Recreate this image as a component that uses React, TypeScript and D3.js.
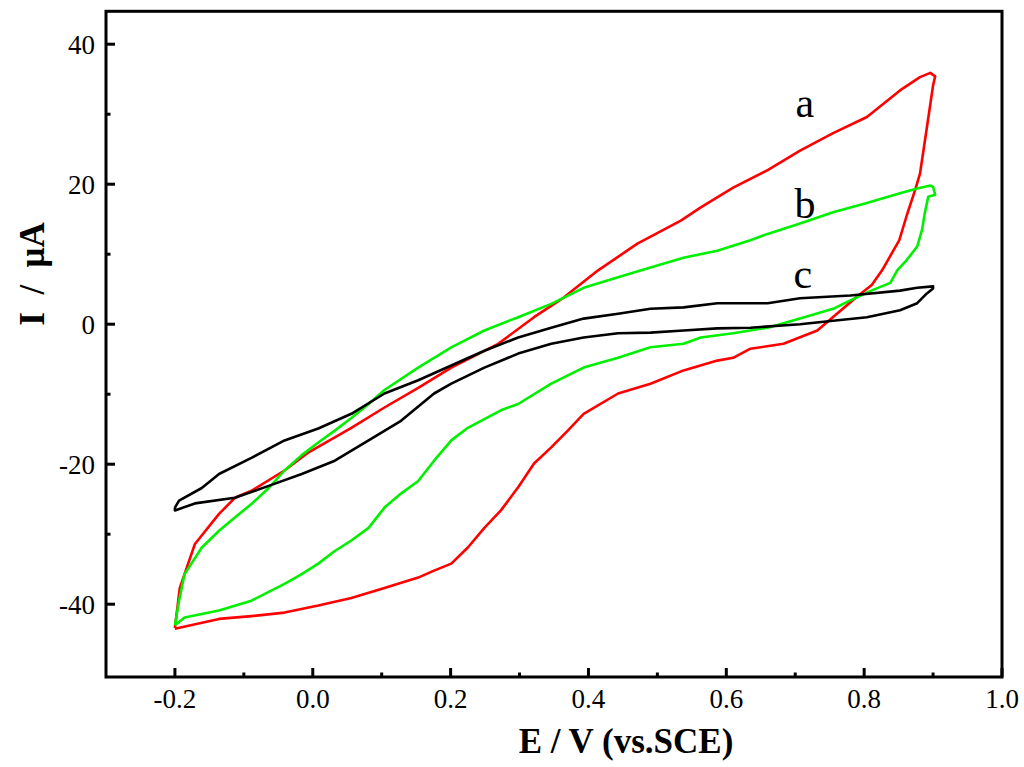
import React from "react";
import * as d3 from "d3";

// Curve a (red): forward scan then reverse scan
const aE = [-0.2, -0.193, -0.171, -0.136, -0.113, -0.089, -0.041, -0.006, 0.056, 0.104, 0.153, 0.201, 0.249, 0.269, 0.321, 0.364, 0.414, 0.471, 0.534, 0.563, 0.61, 0.66, 0.707, 0.755, 0.804, 0.852, 0.881, 0.896, 0.903,
  0.9, 0.891, 0.881, 0.874, 0.862, 0.851, 0.826, 0.811, 0.789, 0.732, 0.683, 0.635, 0.61, 0.587, 0.538, 0.49, 0.443, 0.393, 0.37, 0.346, 0.321, 0.298, 0.273, 0.249, 0.225, 0.201, 0.176, 0.153, 0.104, 0.056, 0.008, -0.041, -0.089, -0.136, -0.2];
const aI = [-43.4, -37.7, -31.4, -27.1, -24.8, -23.8, -20.9, -18.3, -14.8, -11.9, -9.1, -6.2, -3.8, -2.8, 1.0, 3.8, 7.7, 11.5, 14.8, 16.7, 19.5, 22.0, 24.8, 27.3, 29.6, 33.4, 35.3, 35.9, 35.4,
  34.1, 28.1, 21.5, 19.2, 15.6, 12.0, 7.7, 5.6, 3.9, -0.9, -2.8, -3.5, -4.8, -5.2, -6.6, -8.5, -9.9, -12.8, -15.2, -17.6, -19.9, -23.3, -26.6, -29.1, -31.9, -34.2, -35.2, -36.2, -37.7, -39.1, -40.2, -41.2, -41.7, -42.1, -43.5];

// Curve b (green)
const bE = [-0.2, -0.194, -0.186, -0.161, -0.136, -0.113, -0.089, -0.064, -0.041, -0.016, 0.008, 0.032, 0.056, 0.081, 0.104, 0.153, 0.201, 0.249, 0.298, 0.346, 0.393, 0.443, 0.49, 0.538, 0.587, 0.635, 0.66, 0.707, 0.755, 0.804, 0.852, 0.877, 0.896, 0.9,
  0.903, 0.893, 0.888, 0.884, 0.877, 0.862, 0.848, 0.838, 0.813, 0.78, 0.755, 0.707, 0.66, 0.61, 0.563, 0.538, 0.49, 0.443, 0.393, 0.346, 0.298, 0.273, 0.225, 0.201, 0.176, 0.153, 0.128, 0.104, 0.081, 0.056, 0.032, 0.008, -0.016, -0.041, -0.089, -0.136, -0.186, -0.2];
const bI = [-43.0, -39.5, -35.7, -31.9, -29.5, -27.6, -25.7, -23.4, -20.9, -18.7, -16.9, -15.2, -13.4, -11.4, -9.4, -6.2, -3.3, -0.9, 1.0, 2.9, 5.2, 6.7, 8.1, 9.5, 10.5, 12.0, 12.9, 14.4, 16.0, 17.3, 18.7, 19.4, 19.8, 19.6,
  18.5, 18.2, 15.9, 13.5, 11.1, 9.2, 7.7, 5.9, 4.9, 3.4, 2.2, 0.8, -0.5, -1.3, -1.9, -2.8, -3.3, -4.8, -6.2, -8.5, -11.4, -12.3, -14.8, -16.6, -19.5, -22.4, -24.2, -26.2, -29.1, -30.9, -32.4, -34.2, -35.7, -37.1, -39.5, -40.9, -41.9, -43.0];

// Curve c (black)
const cE = [-0.2, -0.194, -0.161, -0.136, -0.089, -0.041, 0.008, 0.056, 0.104, 0.153, 0.201, 0.249, 0.298, 0.346, 0.393, 0.443, 0.49, 0.538, 0.587, 0.66, 0.707, 0.78, 0.852, 0.877, 0.9,
  0.9, 0.891, 0.877, 0.852, 0.804, 0.755, 0.707, 0.635, 0.587, 0.538, 0.49, 0.443, 0.393, 0.346, 0.298, 0.249, 0.201, 0.176, 0.128, 0.081, 0.032, -0.016, -0.064, -0.113, -0.171, -0.2, -0.2];
const cI = [-26.2, -25.2, -23.4, -21.4, -19.1, -16.6, -14.9, -12.8, -9.9, -8.0, -5.9, -3.8, -1.9, -0.5, 0.8, 1.5, 2.2, 2.4, 3.0, 3.0, 3.7, 4.1, 4.8, 5.2, 5.4,
  5.1, 4.4, 3.0, 2.0, 1.0, 0.5, 0.0, -0.5, -0.6, -0.9, -1.2, -1.3, -1.9, -2.8, -4.2, -6.2, -8.5, -9.9, -13.8, -16.6, -19.5, -21.4, -23.1, -24.8, -25.6, -26.6, -26.2];

const seriesNames = ["a", "b", "c"];
const seriesColors = ["#ff0000", "#00f000", "#000000"];
const labelE = [0.714, 0.714, 0.711];
const labelI = [29.6, 15.2, 5.2];

const xMajor = [-0.2, 0.0, 0.2, 0.4, 0.6, 0.8, 1.0];
const xMinor = [-0.1, 0.1, 0.3, 0.5, 0.7, 0.9];
const yMajor = [-40, -20, 0, 20, 40];
const yMinor = [-30, -10, 10, 30];

export default function App() {
  const left = 106, right = 1002, top = 11.3, bottom = 677;
  const x = d3.scaleLinear().domain([-0.3, 1.0]).range([left, right]);
  const y = d3.scaleLinear().domain([-50.4, 44.7]).range([bottom, top]);
  const line = d3.line<[number, number]>().x(d => x(d[0])).y(d => y(d[1]));
  const data = [
    aE.map((e, i) => [e, aI[i]] as [number, number]),
    bE.map((e, i) => [e, bI[i]] as [number, number]),
    cE.map((e, i) => [e, cI[i]] as [number, number]),
  ];
  const font = "'Liberation Serif', 'Times New Roman', serif";
  return (
    <svg width={1024} height={767} style={{ position: "absolute", left: 0, top: 0, background: "#fff" }} fontFamily={font}>
      {data.map((d, i) => (
        <path key={i} d={line(d) || ""} fill="none" stroke={seriesColors[i]} strokeWidth={2.6} strokeLinejoin="round" />
      ))}
      <rect x={left} y={top} width={right - left} height={bottom - top} fill="none" stroke="#000" strokeWidth={3} />
      {xMajor.map(v => (
        <g key={"xm" + v}>
          <line x1={x(v)} x2={x(v)} y1={bottom} y2={bottom - 9} stroke="#000" strokeWidth={3} />
          <text x={x(v)} y={708} textAnchor="middle" fontSize={27}>{v.toFixed(1)}</text>
        </g>
      ))}
      {xMinor.map(v => (
        <line key={"xn" + v} x1={x(v)} x2={x(v)} y1={bottom} y2={bottom - 4.5} stroke="#000" strokeWidth={3} />
      ))}
      {yMajor.map(v => (
        <g key={"ym" + v}>
          <line x1={left} x2={left + 9} y1={y(v)} y2={y(v)} stroke="#000" strokeWidth={3} />
          <text x={95} y={y(v) + 9.5} textAnchor="end" fontSize={27}>{v}</text>
        </g>
      ))}
      {yMinor.map(v => (
        <line key={"yn" + v} x1={left} x2={left + 4.5} y1={y(v)} y2={y(v)} stroke="#000" strokeWidth={3} />
      ))}
      <text x={626} y={753} textAnchor="middle" fontSize={35} fontWeight="bold">E / V (vs.SCE)</text>
      <text transform="translate(44,274) rotate(-90)" textAnchor="middle" fontSize={35} fontWeight="bold" style={{ whiteSpace: "pre" }}>I  /  μA</text>
      {seriesNames.map((n, i) => (
        <text key={n} x={x(labelE[i])} y={y(labelI[i])} textAnchor="middle" fontSize={42}>{n}</text>
      ))}
    </svg>
  );
}
